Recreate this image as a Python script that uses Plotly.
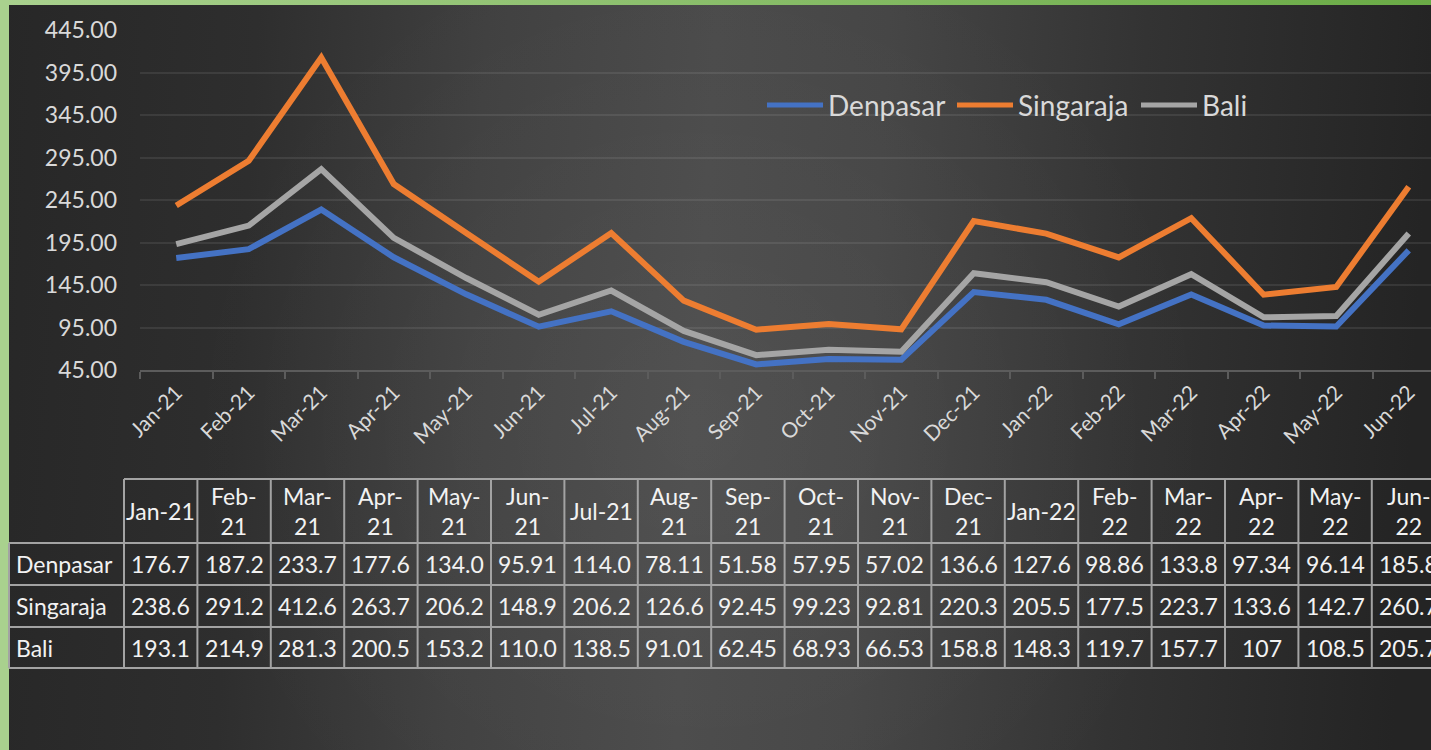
import base64
import plotly.graph_objects as go

# ---------------- data ----------------
categories = ["Jan-21", "Feb-21", "Mar-21", "Apr-21", "May-21", "Jun-21", "Jul-21", "Aug-21", "Sep-21",
              "Oct-21", "Nov-21", "Dec-21", "Jan-22", "Feb-22", "Mar-22", "Apr-22", "May-22", "Jun-22"]
denpasar = [176.7, 187.2, 233.7, 177.6, 134.0, 95.91, 114.0, 78.11, 51.58,
            57.95, 57.02, 136.6, 127.6, 98.86, 133.8, 97.34, 96.14, 185.8]
singaraja = [238.6, 291.2, 412.6, 263.7, 206.2, 148.9, 206.2, 126.6, 92.45,
             99.23, 92.81, 220.3, 205.5, 177.5, 223.7, 133.6, 142.7, 260.7]
bali = [193.1, 214.9, 281.3, 200.5, 153.2, 110.0, 138.5, 91.01, 62.45,
        68.93, 66.53, 158.8, 148.3, 119.7, 157.7, 107, 108.5, 205.7]
series_names = ["Denpasar", "Singaraja", "Bali"]
series_values = [denpasar, singaraja, bali]
series_colors = ["#4472C4", "#ED7D31", "#A5A5A5"]
y_ticks = [45, 95, 145, 195, 245, 295, 345, 395, 445]

# ---------------- layout geometry (pixels) ----------------
W, H = 1431, 750
PL, PT, PB = 140, 30, 370          # plot left / top / bottom (px)
CAT_W = 72.5                       # category width in px
PW = W - PL                        # visible plot width
PH = PB - PT

def px2x(p):
    return (p - PL) / PW

def px2y(p):
    return (PB - p) / PH

FONT = "Lato"
TXT = "#d9d9d9"

# background svg (gradient + green frame)
svg = f"""<svg xmlns='http://www.w3.org/2000/svg' width='{W}' height='{H}'>
<defs>
<linearGradient id='bg' x1='0' y1='0' x2='{W}' y2='80' gradientUnits='userSpaceOnUse'>
<stop offset='0' stop-color='#272727'/>
<stop offset='0.18' stop-color='#2e2e2e'/>
<stop offset='0.34' stop-color='#404040'/>
<stop offset='0.5' stop-color='#4a4a4a'/>
<stop offset='0.62' stop-color='#454545'/>
<stop offset='0.8' stop-color='#333333'/>
<stop offset='1' stop-color='#242424'/>
</linearGradient>
<radialGradient id='glow' cx='700' cy='430' r='520' gradientUnits='userSpaceOnUse'>
<stop offset='0' stop-color='#ffffff' stop-opacity='0.045'/>
<stop offset='1' stop-color='#ffffff' stop-opacity='0'/>
</radialGradient>
<linearGradient id='gr' x1='0' y1='0' x2='{W}' y2='0' gradientUnits='userSpaceOnUse'>
<stop offset='0' stop-color='#a9d18e'/>
<stop offset='1' stop-color='#6aab46'/>
</linearGradient>
</defs>
<rect width='{W}' height='{H}' fill='url(#bg)'/>
<rect width='{W}' height='{H}' fill='url(#glow)'/>
<rect x='0' y='0' width='{W}' height='5' fill='url(#gr)'/>
<rect x='0' y='0' width='9' height='{H}' fill='#a9d18e'/>
</svg>"""
bg_src = "data:image/svg+xml;base64," + base64.b64encode(svg.encode()).decode()

fig = go.Figure()
for name, vals, col in zip(series_names, series_values, series_colors):
    fig.add_trace(go.Scatter(x=categories, y=vals, name=name, mode="lines",
                             line=dict(color=col, width=6), showlegend=False,
                             hoverinfo="skip"))

shapes = []
annotations = []

# custom legend
legend_x = [767, 957, 1141]
LEG_Y = 105
for name, col, lx in zip(series_names, series_colors, legend_x):
    shapes.append(dict(type="line", xref="paper", yref="paper",
                       x0=px2x(lx), x1=px2x(lx + 56), y0=px2y(LEG_Y), y1=px2y(LEG_Y),
                       line=dict(color=col, width=5)))
    annotations.append(dict(xref="paper", yref="paper", x=px2x(lx + 59), y=px2y(LEG_Y),
                            xanchor="left", yanchor="middle", showarrow=False, text=name,
                            font=dict(family=FONT, size=28, color=TXT)))

# data table
TX0 = 124
COL_W = 73.4
RH_X0 = 9
HDR_TOP, HDR_BOT = 479, 543
ROW_BOTS = [585, 627, 668]
TABLE_RIGHT = TX0 + COL_W * len(categories)
LC = "#a3a3a3"
LW = 2

def hline(yp, x0, x1):
    shapes.append(dict(type="line", xref="paper", yref="paper", x0=px2x(x0), x1=px2x(x1),
                       y0=px2y(yp), y1=px2y(yp), line=dict(color=LC, width=LW)))

def vline(xp, y0, y1):
    shapes.append(dict(type="line", xref="paper", yref="paper", x0=px2x(xp), x1=px2x(xp),
                       y0=px2y(y0), y1=px2y(y1), line=dict(color=LC, width=LW)))

hline(HDR_TOP, TX0, TABLE_RIGHT)
hline(HDR_BOT, RH_X0, TABLE_RIGHT)
for rb in ROW_BOTS:
    hline(rb, RH_X0, TABLE_RIGHT)
vline(RH_X0, HDR_BOT, ROW_BOTS[-1])
for k in range(len(categories) + 1):
    vline(TX0 + k * COL_W, HDR_TOP, ROW_BOTS[-1])

header_labels = [c if c[:3] in ("Jan", "Jul") else c.replace("-", "-<br>") for c in categories]

def fmt(v):
    return str(v) if isinstance(v, int) else f"{v:#.4g}"

TF = dict(family=FONT, size=23, color="#f2f2f2")
for k, lab in enumerate(header_labels):
    cx = TX0 + (k + 0.5) * COL_W
    annotations.append(dict(xref="paper", yref="paper", x=px2x(cx), y=px2y((HDR_TOP + HDR_BOT) / 2),
                            xanchor="center", yanchor="middle", showarrow=False, text=lab,
                            font=TF, align="center"))
row_tops = [HDR_BOT] + ROW_BOTS[:-1]
for name, vals, rt, rb in zip(series_names, series_values, row_tops, ROW_BOTS):
    cy = px2y((rt + rb) / 2)
    annotations.append(dict(xref="paper", yref="paper", x=px2x(RH_X0 + 5), y=cy,
                            xanchor="left", yanchor="middle", showarrow=False, text=name, font=TF))
    for k, v in enumerate(vals):
        cx = TX0 + (k + 0.5) * COL_W
        annotations.append(dict(xref="paper", yref="paper", x=px2x(cx), y=cy,
                                xanchor="center", yanchor="middle", showarrow=False,
                                text=fmt(v), font=TF))

fig.update_layout(
    width=W, height=H,
    margin=dict(l=PL, r=0, t=PT, b=H - PB, pad=0),
    paper_bgcolor="#2a2a2a",
    plot_bgcolor="rgba(0,0,0,0)",
    showlegend=False,
    hovermode=False,
    shapes=shapes,
    annotations=annotations,
    images=[dict(source=bg_src, xref="paper", yref="paper", x=px2x(0), y=px2y(0),
                 sizex=W / PW, sizey=H / PH, xanchor="left", yanchor="top",
                 sizing="stretch", layer="below")],
    xaxis=dict(type="category", categoryorder="array", categoryarray=categories,
               range=[-0.5, -0.5 + PW / CAT_W], showgrid=False, zeroline=False,
               showline=True, linecolor="#5c5c5c", linewidth=2,
               ticks="outside", tickson="boundaries", ticklen=7, tickcolor="#5c5c5c", tickwidth=2,
               tickangle=-45, tickfont=dict(family=FONT, size=21, color=TXT)),
    yaxis=dict(range=[45, 445], tickvals=y_ticks, tickformat=".2f", showgrid=True,
               gridcolor="rgba(217,217,217,0.10)", gridwidth=2, zeroline=False, showline=False,
               ticks="", ticklabelstandoff=22,
               tickfont=dict(family=FONT, size=23, color=TXT)),
)

fig.write_html("out.html", config={"displayModeBar": False, "staticPlot": True},
               post_script="document.body.style.margin='0';document.body.style.overflow='hidden';")
